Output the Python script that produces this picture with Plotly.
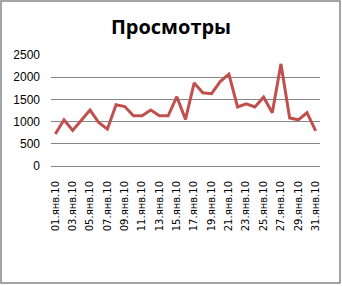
import plotly.graph_objects as go

days = [f"{d:02d}.янв.10" for d in range(1, 32)]
views = [720, 1040, 800, 1030, 1260, 980, 830, 1380, 1340, 1130,
         1130, 1260, 1130, 1130, 1560, 1050, 1870, 1650, 1630, 1900,
         2070, 1330, 1400, 1330, 1550, 1200, 2300, 1080, 1040, 1200, 790]
y_ticks = [0, 500, 1000, 1500, 2000, 2500]
title_text = "Просмотры"

fig = go.Figure(go.Scatter(
    x=days, y=views, mode="lines",
    line=dict(color="#C0504D", width=3),
    hoverinfo="skip",
))

fig.update_layout(
    width=342, height=286,
    margin=dict(l=51, r=22, t=55, b=120),
    paper_bgcolor="white", plot_bgcolor="white",
    showlegend=False,
    title=dict(text=f"<b>{title_text}</b>", x=0.5, xanchor="center",
               y=1 - 27 / 286, yanchor="middle", yref="container",
               font=dict(family="Open Sans", size=20, color="black")),
    xaxis=dict(
        type="category", range=[-0.5, 30.5],
        tickmode="array", tickvals=days[::2], ticktext=days[::2],
        tickangle=-90, tickfont=dict(family="DejaVu Sans", size=10, color="black"),
        showgrid=False, showline=False, zeroline=False, ticks="",
        ticklabelstandoff=12,
    ),
    yaxis=dict(
        range=[0, 2500], tickmode="array", tickvals=y_ticks,
        tickfont=dict(family="Liberation Sans", size=12, color="black"),
        showgrid=True, gridcolor="#868686", gridwidth=1,
        zeroline=True, zerolinecolor="#868686", zerolinewidth=1,
        showline=False, ticks="", ticklabelstandoff=10,
    ),
    shapes=[dict(type="rect", xref="paper", yref="paper",
                 x0=-50 / 269, x1=1 + 20 / 269,
                 y0=-117 / 111, y1=1 + 54 / 111,
                 line=dict(color="#868686", width=1.5), layer="below")],
)

fig.write_html("out.html")
